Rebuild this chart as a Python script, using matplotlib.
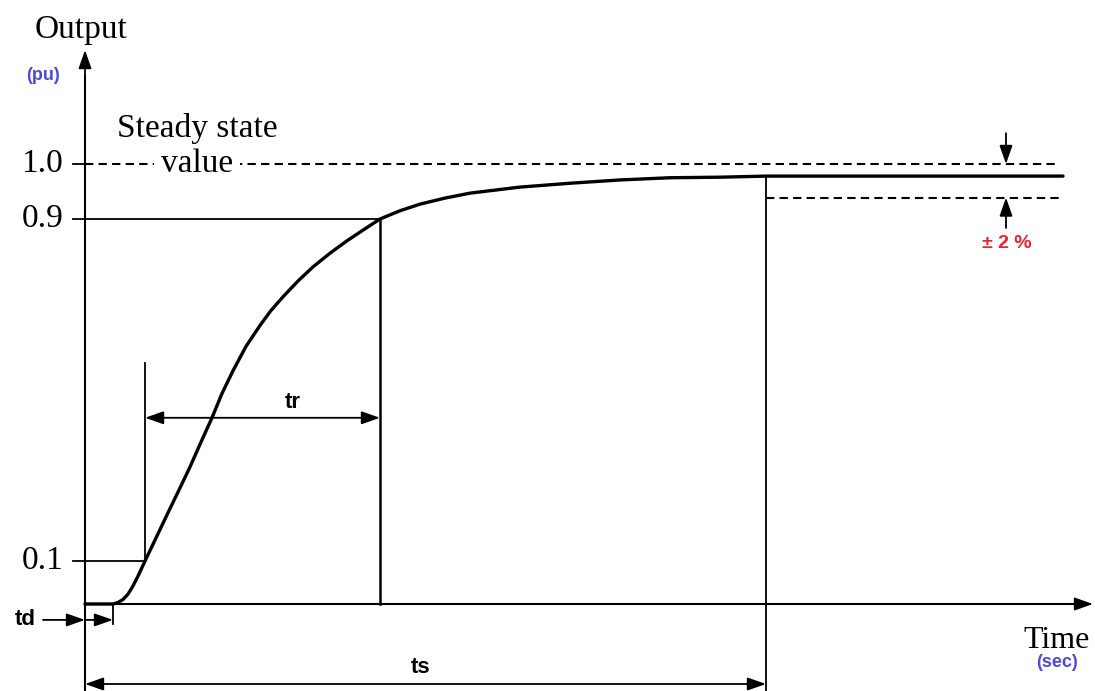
"""Step response of a second order system: delay, rise and settling time."""

import numpy as np
import matplotlib
matplotlib.use('Agg')
import matplotlib.pyplot as plt


# response (time in arbitrary units, output in pu)
TIME = [0.0, 0.28, 0.33, 0.38, 0.43, 0.48, 0.53, 0.60, 0.70, 0.82,
        0.95, 1.05, 1.15, 1.27, 1.37, 1.48, 1.61, 1.75, 1.86, 1.98,
        2.13, 2.28, 2.45, 2.62, 2.78, 2.95, 3.15, 3.35, 3.60, 3.85,
        4.35, 4.85, 5.35, 5.85, 6.35, 6.82, 9.78]
OUTPUT = [0.0, 0.0, 0.0035, 0.0105, 0.023, 0.042, 0.065, 0.100, 0.149, 0.208,
          0.271, 0.320, 0.373, 0.435, 0.492, 0.545, 0.602, 0.651, 0.686, 0.718,
          0.755, 0.788, 0.820, 0.849, 0.874, 0.900, 0.915, 0.927, 0.938, 0.947,
          0.958, 0.965, 0.971, 0.975, 0.976, 0.978, 0.978]

LEVEL_LABELS = ['0.1', '0.9', '1.0']
LEVELS = [0.1, 0.9, 1.0]

STEADY = 0.978
BAND_HIGH = 1.0
BAND_LOW = 0.939

T_DELAY = 0.28
T_10 = 0.60
T_90 = 2.95
T_SETTLE = 6.81

# the sketch is not drawn to scale on the output axis
SCALE_PU = [-1.0, 0.0, 0.1, 0.9, 1.0, 2.0]
SCALE_SCREEN = [-430.0, 0.0, 43.0, 385.0, 440.0, 880.0]

SERIF = 'Liberation Serif'
SANS = 'Liberation Sans'
BLUE = '#4b4bd6'
RED = '#e8232d'
DASH = (0, (4, 2.5))


def forward(y):
    return np.interp(y, SCALE_PU, SCALE_SCREEN)


def inverse(v):
    return np.interp(v, SCALE_SCREEN, SCALE_PU)


def arrow(axes, start, end, style='-|>'):
    """Draw a black arrow with a filled head between two data points."""
    axes.annotate('', xy=end, xytext=start,
                  arrowprops=dict(arrowstyle=f'{style},head_length=0.8,head_width=0.28',
                                  color='black', lw=1.3, shrinkA=0, shrinkB=0,
                                  mutation_scale=14))


fig = plt.figure(figsize=(10.95, 6.91), dpi=100)
ax = fig.add_axes([0, 0, 1, 1])
ax.set_yscale('function', functions=(forward, inverse))
ax.set_xlim(-0.85, 10.10)
ax.set_ylim(-0.2023, 1.3727)
ax.axis('off')

# axes with arrow heads
ax.plot([0, 0], [-0.21, 1.2], color='black', lw=1.5)
arrow(ax, (0, 1.15), (0, 1.259))
ax.plot([0, 9.9], [0, 0], color='black', lw=1.5)
arrow(ax, (9.8, 0), (10.08, 0))

# response curve
ax.plot(TIME, OUTPUT, color='black', lw=2.4, solid_capstyle='round',
        solid_joinstyle='round')

# reference levels
ax.plot([-0.12, 0], [1.0, 1.0], color='black', lw=1.3)
ax.plot([0, 9.75], [1.0, 1.0], color='black', lw=1.5, ls=DASH)
ax.plot([-0.12, T_90], [0.9, 0.9], color='black', lw=1.3)
ax.plot([-0.12, T_10], [0.1, 0.1], color='black', lw=1.3)
ax.plot([T_SETTLE, 9.75], [BAND_LOW, BAND_LOW], color='black', lw=1.5, ls=DASH)

for lbl, lev in zip(LEVEL_LABELS, LEVELS):
    ax.text(-0.22, lev, lbl, ha='right', va='center', fontsize=24, family=SERIF)

# vertical markers
ax.plot([T_10, T_10], [0.1, 0.563], color='black', lw=1.3)
ax.plot([T_90, T_90], [0, 0.9], color='black', lw=1.8)
ax.plot([T_SETTLE, T_SETTLE], [-0.21, STEADY], color='black', lw=1.3)
ax.plot([T_DELAY, T_DELAY], [0, -0.0465], color='black', lw=1.3)

# time intervals
arrow(ax, (T_10, 0.435), (T_90, 0.435), style='<|-|>')
ax.text((T_10 + T_90) / 2 + 0.3, 0.47, 'tr', ha='center', va='center',
        fontsize=16, fontweight='bold', family=SANS)

arrow(ax, (-0.42, -0.037), (0, -0.037))
arrow(ax, (0, -0.037), (T_DELAY, -0.037))
ax.text(-0.6, -0.037, 'td', ha='center', va='center',
        fontsize=16, fontweight='bold', family=SANS)

arrow(ax, (0, -0.186), (T_SETTLE, -0.186), style='<|-|>')
ax.text(3.36, -0.147, 'ts', ha='center', va='center',
        fontsize=16, fontweight='bold', family=SANS)

# tolerance band
arrow(ax, (9.21, 1.07), (9.21, BAND_HIGH))
arrow(ax, (9.21, 0.879), (9.21, BAND_LOW))
ax.text(9.22, 0.842, '± 2 %', ha='center', va='center', color=RED,
        fontsize=14, fontweight='bold', family=SANS)

# labels
ax.text(1.12, 1.0, 'value', ha='center', va='center', fontsize=24, family=SERIF,
        bbox=dict(facecolor='white', edgecolor='none', pad=5))
ax.text(1.12, 1.08, 'Steady state', ha='center', va='center',
        fontsize=24, family=SERIF)
ax.text(-0.04, 1.305, 'Output', ha='center', va='center', fontsize=24, family=SERIF)
ax.text(-0.42, 1.2, '(pu)', ha='center', va='center', color=BLUE,
        fontsize=13, fontweight='bold', family=SANS)
ax.text(9.72, -0.085, 'Time', ha='center', va='center', fontsize=23, family=SERIF)
ax.text(9.72, -0.137, '(sec)', ha='center', va='center', color=BLUE,
        fontsize=13, fontweight='bold', family=SANS)

fig.savefig('out.png', dpi=100, facecolor='white')
